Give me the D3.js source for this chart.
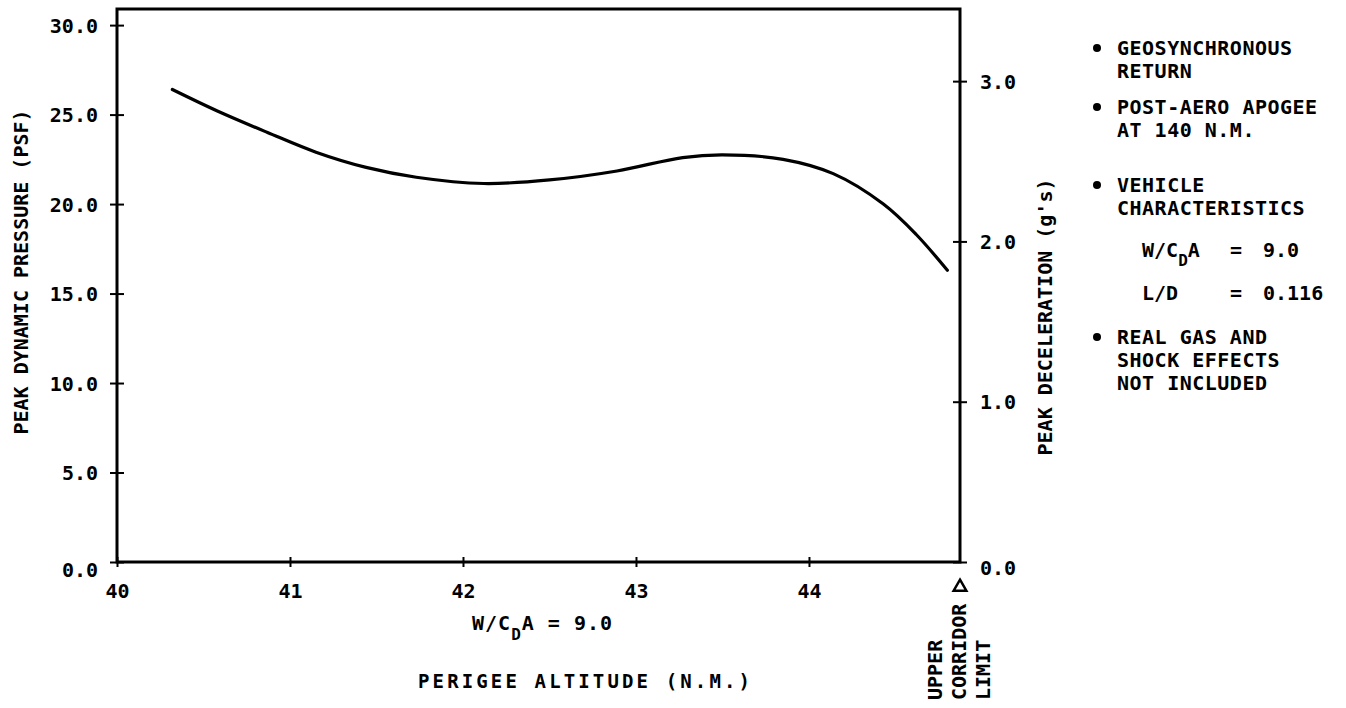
<!DOCTYPE html>
<html>
<head>
<meta charset="utf-8">
<script src="https://cdn.jsdelivr.net/npm/d3@7"></script>
<style>
  body { margin: 0; background: #fff; }
  svg text { font-family: "DejaVu Sans Mono", "Liberation Mono", monospace; font-weight: bold; fill: #000; }
</style>
</head>
<body>
<div id="container"></div>
<script>
var width = 1346,
    height = 708;

// data
var altitude = [40.32, 40.58, 40.87, 41.15, 41.44, 41.73, 42.12, 42.50, 42.89, 43.27, 43.50, 43.85, 44.14, 44.43, 44.62, 44.80];
var pressure = [26.4, 25.2, 24.0, 22.9, 22.05, 21.5, 21.15, 21.35, 21.85, 22.6, 22.75, 22.5, 21.7, 20.0, 18.3, 16.3];

var xTicks = [40, 41, 42, 43, 44];
var pressureTicks = [0, 5, 10, 15, 20, 25, 30];
var decelTicks = [0, 1, 2, 3];
var corridorLimit = 44.873;   // upper corridor limit, right edge of the plot
var pressureTop = 30.9;       // top of frame on left scale
var decelTop = 3.45;          // top of frame on right scale

var notes = [
    ["GEOSYNCHRONOUS", "RETURN"],
    ["POST-AERO APOGEE", "AT 140 N.M."],
    ["VEHICLE", "CHARACTERISTICS"],
    ["REAL GAS AND", "SHOCK EFFECTS", "NOT INCLUDED"]
];

var svg = d3.select("#container").append("svg")
    .attr("width", width)
    .attr("height", height);

var x = d3.scaleLinear().domain([40, corridorLimit]).range([117, 960]);
var yL = d3.scaleLinear().domain([0, pressureTop]).range([562, 9]);
var yR = d3.scaleLinear().domain([0, decelTop]).range([562, 9]);

var fmt = d3.format(".1f");

// left axis
var gL = svg.append("g")
    .attr("transform", "translate(" + x(40) + ",0)")
    .call(d3.axisLeft(yL).tickValues(pressureTicks).tickFormat(fmt).tickSizeOuter(0).tickSize(7).tickPadding(12));
gL.selectAll(".tick line").attr("x1", -7).attr("x2", 7).attr("stroke-width", 2);
gL.selectAll(".tick text").attr("font-size", 20).attr("dy", d => d === 0 ? "0.7em" : "0.35em");
gL.select(".domain").remove();

// right axis
var gR = svg.append("g")
    .attr("transform", "translate(" + x(corridorLimit) + ",0)")
    .call(d3.axisRight(yR).tickValues(decelTicks).tickFormat(fmt).tickSizeOuter(0).tickSize(7).tickPadding(13));
gR.selectAll(".tick line").attr("x1", -7).attr("x2", 7).attr("stroke-width", 2);
gR.selectAll(".tick text").attr("font-size", 20).attr("dy", d => d === 0 ? "0.6em" : "0.35em");
gR.select(".domain").remove();

// bottom axis
var gB = svg.append("g")
    .attr("transform", "translate(0," + yL(0) + ")")
    .call(d3.axisBottom(x).tickValues(xTicks).tickFormat(d3.format("d")).tickSizeOuter(0).tickSize(5));
gB.selectAll(".tick line").attr("y1", -5).attr("y2", 5).attr("stroke-width", 2);
gB.selectAll(".tick text").attr("font-size", 20).attr("y", 36).attr("dy", 0);
gB.select(".domain").remove();

// frame
svg.append("rect")
    .attr("x", x(40))
    .attr("y", yL(pressureTop))
    .attr("width", x(corridorLimit) - x(40))
    .attr("height", yL(0) - yL(pressureTop))
    .attr("fill", "none")
    .attr("stroke", "#000")
    .attr("stroke-width", 3);

// curve
var line = d3.line()
    .x((d, i) => x(altitude[i]))
    .y(d => yL(d))
    .curve(d3.curveCatmullRom.alpha(0.5));

svg.append("path")
    .datum(pressure)
    .attr("d", line)
    .attr("fill", "none")
    .attr("stroke", "#000")
    .attr("stroke-width", 3.2)
    .attr("stroke-linecap", "round");

// axis titles
svg.append("text")
    .attr("transform", "translate(28,272) rotate(-90)")
    .attr("text-anchor", "middle")
    .attr("font-size", 20)
    .text("PEAK DYNAMIC PRESSURE (PSF)");

svg.append("text")
    .attr("transform", "translate(1052,317) rotate(-90)")
    .attr("text-anchor", "middle")
    .attr("font-size", 20)
    .text("PEAK DECELERATION (g's)");

var wcda = svg.append("text")
    .attr("x", 472).attr("y", 630)
    .attr("font-size", 20)
    .attr("letter-spacing", 1);
wcda.append("tspan").text("W/C");
wcda.append("tspan").attr("dy", 10).attr("font-size", 16).text("D");
wcda.append("tspan").attr("dy", -10).text("A = 9.0");

svg.append("text")
    .attr("x", 418).attr("y", 688)
    .attr("font-size", 19)
    .attr("textLength", 332)
    .attr("lengthAdjust", "spacing")
    .text("PERIGEE ALTITUDE (N.M.)");

// upper corridor limit marker
var tri = d3.symbol().type(d3.symbolTriangle).size(70);
svg.append("path")
    .attr("d", tri())
    .attr("transform", "translate(" + x(corridorLimit) + ",587)")
    .attr("fill", "none")
    .attr("stroke", "#000")
    .attr("stroke-width", 2.5);

["UPPER", "CORRIDOR", "LIMIT"].forEach(function(s, i) {
    svg.append("text")
        .attr("transform", "translate(" + (942 + i * 24) + ",700) rotate(-90)")
        .attr("font-size", 20)
        .text(s);
});

// notes on the right
var noteTop = [55, 114, 192, 344];
notes.forEach(function(lines, k) {
    svg.append("circle")
        .attr("cx", 1097).attr("cy", noteTop[k] - 7).attr("r", 4).attr("fill", "#000");
    lines.forEach(function(s, j) {
        svg.append("text")
            .attr("x", 1117).attr("y", noteTop[k] + j * 23)
            .attr("font-size", 20)
            .attr("letter-spacing", 0.5)
            .text(s);
    });
});

var n1 = svg.append("text").attr("x", 1142).attr("y", 257).attr("font-size", 20);
n1.append("tspan").text("W/C");
n1.append("tspan").attr("dy", 9).attr("font-size", 16).text("D");
n1.append("tspan").attr("dy", -9).text("A");
svg.append("text").attr("x", 1230).attr("y", 257).attr("font-size", 20).text("=");
svg.append("text").attr("x", 1263).attr("y", 257).attr("font-size", 20).text("9.0");

svg.append("text").attr("x", 1142).attr("y", 300).attr("font-size", 20).text("L/D");
svg.append("text").attr("x", 1230).attr("y", 300).attr("font-size", 20).text("=");
svg.append("text").attr("x", 1263).attr("y", 300).attr("font-size", 20).text("0.116");
</script>
</body>
</html>
